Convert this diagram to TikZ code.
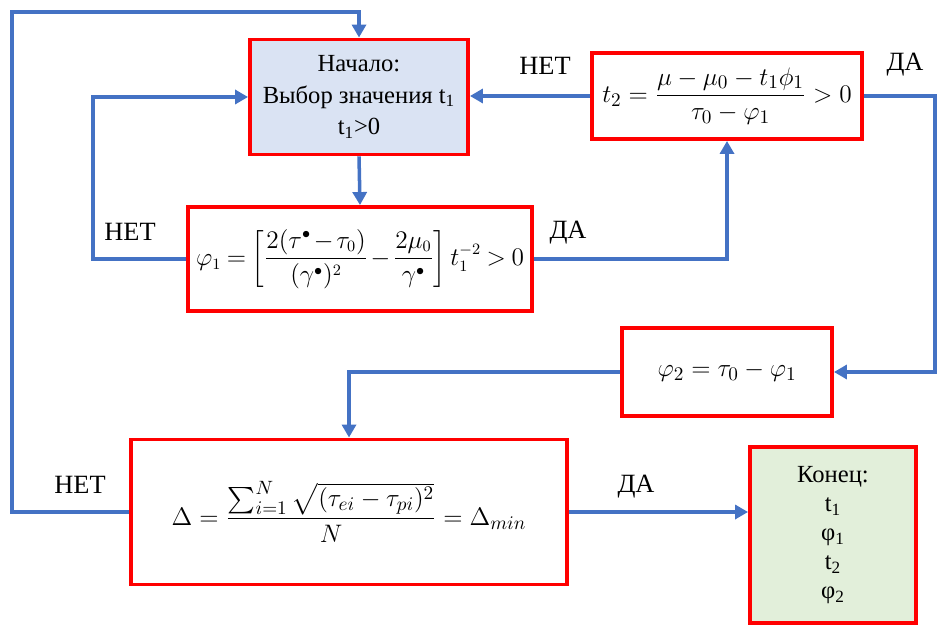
\documentclass[tikz,border=0pt]{standalone}
\usepackage{amsmath}
\usepackage{amssymb}
\usepackage{fontspec}
\setmainfont{Liberation Serif}
\usepackage{tikz}
\usetikzlibrary{arrows.meta}

\definecolor{boxred}{RGB}{255,0,0}
\definecolor{flowblue}{RGB}{68,114,196}
\definecolor{startfill}{RGB}{218,227,243}
\definecolor{endfill}{RGB}{226,239,218}

\tikzset{
  box/.style={draw=boxred,line width=2.2pt,inner sep=0pt,align=center,
    font=\fontsize{14}{18}\selectfont},
  formula/.style={box,font=\fontsize{15.5}{19}\selectfont},
  flow/.style={draw=flowblue,line width=2pt,
    -{Triangle[length=2.6mm,width=2.8mm]}},
  answer/.style={font=\fontsize{15}{18}\selectfont}
}

\begin{document}
\begin{tikzpicture}[x=0.2mm,y=-0.2mm]
  \useasboundingbox (0,0) rectangle (938,626);
  % blocks
  \node[box,fill=startfill,minimum width=43.6mm,minimum height=23mm] (start) at (359,97)
    {Начало:\\Выбор значения t\textsubscript{1}\\t\textsubscript{1}>0};
  \node[formula,minimum width=68.8mm,minimum height=20.8mm,
    font=\fontsize{13.5}{17}\selectfont] (phi1) at (360,259)
    {$\medmuskip=2mu\thickmuskip=4mu\displaystyle \varphi_1=\left[\frac{2(\tau^{\bullet}-\tau_0)}{(\gamma^{\bullet})^2}-\frac{2\mu_0}{\gamma^{\bullet}}\right]t_1^{-2}>0$};
  \node[formula,minimum width=54mm,minimum height=17.2mm] (t2) at (727,96)
    {$\displaystyle t_2=\frac{\mu-\mu_0-t_1\phi_1}{\tau_0-\varphi_1}>0$};
  \node[formula,minimum width=42mm,minimum height=17.6mm] (phi2) at (727,372)
    {$\varphi_2=\tau_0-\varphi_1$};
  \node[formula,minimum width=87.2mm,minimum height=29mm,
    font=\fontsize{15}{18}\selectfont] (delta) at (349,512)
    {$\displaystyle \Delta=\frac{\textstyle\sum_{i=1}^{N}\sqrt{(\tau_{ei}-\tau_{pi})^2}}{N}=\Delta_{min}$};
  \node[box,fill=endfill,minimum width=33.2mm,minimum height=35.2mm,
    font=\fontsize{14}{16.6}\selectfont] (end) at (833,535)
    {Конец:\\t\textsubscript{1}\\φ\textsubscript{1}\\t\textsubscript{2}\\φ\textsubscript{2}};
  % turning points
  \coordinate (ltop) at (12,12);
  \coordinate (lmid) at (93,0);
  \coordinate (rside) at (935,0);
  % connectors
  \draw[flow] (delta.west) -| (ltop) -| (start.north);
  \draw[flow] (start.south) -- (phi1.north);
  \draw[flow] (phi1.west) -| (lmid |- start.west) -- (start.west);
  \draw[flow] (phi1.east) -| (t2.south);
  \draw[flow] (t2.west) -- (t2.west -| start.east);
  \draw[flow] (t2.east) -| (rside |- phi2.east) -- (phi2.east);
  \draw[flow] (phi2.west) -| (delta.north);
  \draw[flow] (delta.east) -- (delta.east -| end.west);
  % answers
  \node[answer] (no1) at (80,485) {НЕТ};
  \node[answer] (no2) at (130,232) {НЕТ};
  \node[answer] (yes1) at (568,233) {ДА};
  \node[answer] (no3) at (545,66) {НЕТ};
  \node[answer] (yes2) at (905,65) {ДА};
  \node[answer] (yes3) at (636,487) {ДА};
\end{tikzpicture}
\end{document}
